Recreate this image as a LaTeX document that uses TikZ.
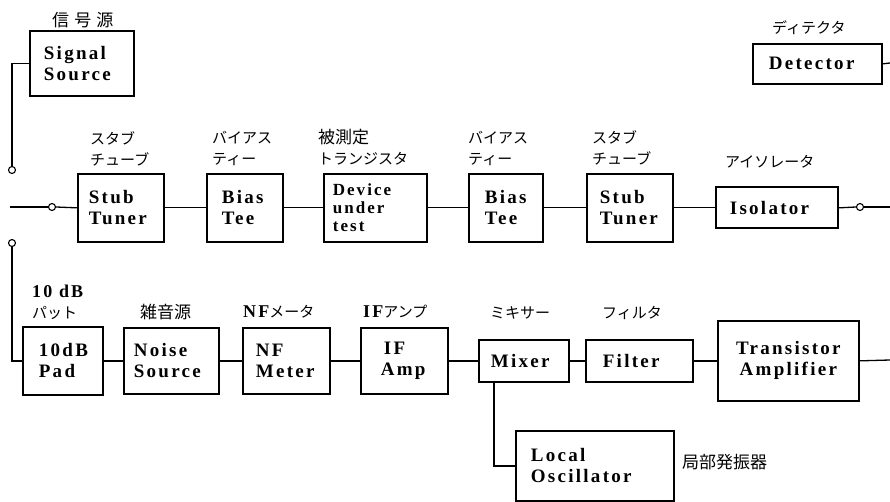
\documentclass[tikz,border=0pt]{standalone}
\usepackage{fontspec}
\setmainfont{Liberation Serif}
\newfontfamily\boxf{Liberation Serif}[LetterSpace=12]
\newfontfamily\jp{Noto Sans CJK JP}
\newfontfamily\jpw{Noto Sans CJK JP}[LetterSpace=30]
\newcommand\kata{\jp\fontsize{15}{21}\selectfont}
\newcommand\kanji{\jp\fontsize{17}{21}\selectfont}
\newcommand\latl{\fontsize{18}{21}\selectfont\boxf\bfseries}
\begin{document}
\begin{tikzpicture}[x=1pt,y=-1pt,
  blk/.style={draw, line width=1.7pt, anchor=north west, align=left, inner ysep=0pt,
    font=\fontsize{19}{21}\selectfont\boxf\bfseries},
  lab/.style={anchor=west, inner sep=0pt, align=left, font=\kata},
  conn/.style={line width=1.3pt},
  sw/.style={circle, draw, line width=1.1pt, fill=white, inner sep=0pt, minimum size=7pt}]
\useasboundingbox (0,0) rectangle (890,502);

% boxes
\node[blk, minimum width=104pt, minimum height=65pt, inner xsep=14pt, text width=76pt] (sig) at (29,30) {Signal\\Source};
\node[blk, minimum width=86pt, minimum height=68pt, inner xsep=11pt, text width=64pt] (st1) at (77,173) {Stub\\Tuner};
\node[blk, minimum width=76pt, minimum height=68pt, inner xsep=15pt, text width=46pt] (bt1) at (206,173) {Bias\\Tee};
\node[blk, minimum width=103pt, minimum height=68pt, inner xsep=9pt, text width=85pt,
  font=\fontsize{17}{18}\selectfont\boxf\bfseries] (dut) at (323,173) {Device\\under\\test};
\node[blk, minimum width=74pt, minimum height=68pt, inner xsep=16pt, text width=42pt] (bt2) at (468,173) {Bias\\Tee};
\node[blk, minimum width=86pt, minimum height=68pt, inner xsep=13pt, text width=60pt] (st2) at (586,173) {Stub\\Tuner};
\node[blk, minimum width=122pt, minimum height=41pt, inner xsep=14pt, text width=94pt] (iso) at (715,186.5) {Isolator};
\node[blk, minimum width=129pt, minimum height=40pt, inner xsep=16pt, text width=97pt] (det) at (752,43) {Detector};

\node[blk, minimum width=80pt, minimum height=68pt, inner xsep=16pt, text width=48pt] (pad) at (22,326) {10dB\\Pad};
\node[blk, minimum width=95pt, minimum height=66pt, inner xsep=10pt, text width=75pt] (ns) at (123,327) {Noise\\Source};
\node[blk, minimum width=87pt, minimum height=66pt, inner xsep=13pt, text width=61pt] (nf) at (242,327) {NF\\Meter};
\node[blk, minimum width=87pt, minimum height=66pt, inner xsep=20pt, text width=47pt] (ifa) at (360,327) {\hspace{3pt}IF\\Amp};
\node[blk, minimum width=90pt, minimum height=42pt, inner xsep=12pt, text width=66pt] (mix) at (478,339) {Mixer};
\node[blk, minimum width=107pt, minimum height=42pt, inner xsep=17pt, text width=73pt] (fil) at (585,339) {Filter};
\node[blk, minimum width=141pt, minimum height=80pt, inner xsep=6pt, text width=129pt, align=center] (ta) at (717,320) {Transistor\\Amplifier};
\node[blk, minimum width=158pt, minimum height=70pt, inner xsep=15pt, text width=128pt] (lo) at (515,430) {Local\\Oscillator};

% labels
\node[lab, font=\jpw\fontsize{17}{21}\selectfont] (lsig) at (52,20) {信号源};
\node[lab] (lst1) at (90,148.5) {スタブ\\チューブ};
\node[lab] (lbt1) at (212,148) {バイアス\\ティー};
\node[lab] (ldut) at (318,147.5) {{\kanji 被測定}\\トランジスタ};
\node[lab] (lbt2) at (468,148) {バイアス\\ティー};
\node[lab] (lst2) at (592,148) {スタブ\\チューブ};
\node[lab] (liso) at (725,162) {アイソレータ};
\node[lab] (ldet) at (772,28) {ディテクタ};
\node[lab] (lpad) at (32,302) {{\latl 10 dB}\\パット};
\node[lab, font=\kanji] (lns) at (140,312) {雑音源};
\node[lab] (lnf) at (243,312) {{\latl NF}メータ};
\node[lab] (lifa) at (363,312) {{\latl IF}アンプ};
\node[lab] (lmix) at (490,313) {ミキサー};
\node[lab] (lfil) at (602,313) {フィルタ};
\node[lab, font=\kanji] (llo) at (682,462) {局部発振器};

% switch contacts
\node[sw] (c1) at (12,170) {};
\node[sw] (c2) at (52,207) {};
\node[sw] (c3) at (12,243) {};
\node[sw] (c4) at (860,207) {};
\coordinate (L0) at (10,207);
\coordinate (R0) at (890,63);
\coordinate (R1) at (890,207);
\coordinate (R2) at (890,360);

% connectors
\draw[conn] (sig.west) -| (c1.north);
\draw[conn] (L0) -- (c2.west);
\draw[conn] (c2.east) -- (st1.west);
\draw[conn] (c3.south) |- (pad.west);
\draw[conn] (st1.east) -- (bt1.west);
\draw[conn] (bt1.east) -- (dut.west);
\draw[conn] (dut.east) -- (bt2.west);
\draw[conn] (bt2.east) -- (st2.west);
\draw[conn] (st2.east) -- (iso.west);
\draw[conn] (iso.east) -- (c4.west);
\draw[conn] (c4.east) -- (R1);
\draw[conn] (det.east) -- (R0);
\draw[conn] (pad.east) -- (ns.west);
\draw[conn] (ns.east) -- (nf.west);
\draw[conn] (nf.east) -- (ifa.west);
\draw[conn] (ifa.east) -- (mix.west);
\draw[conn] (mix.east) -- (fil.west);
\draw[conn] (fil.east) -- (ta.west);
\draw[conn] (ta.east) -- (R2);
\draw[conn] ([xshift=16pt]mix.south west) |- (lo.west);
\end{tikzpicture}
\end{document}
